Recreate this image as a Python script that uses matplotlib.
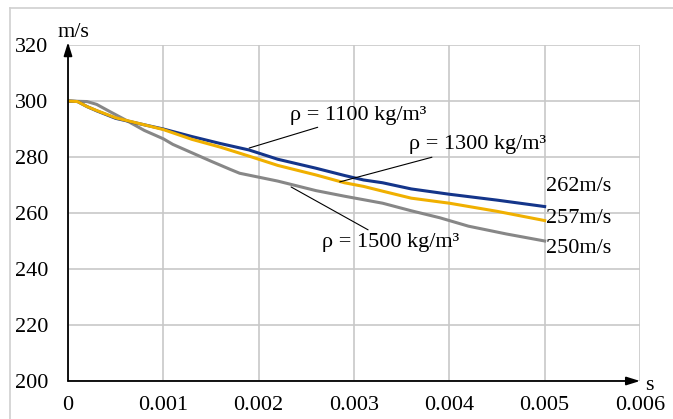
import matplotlib
matplotlib.use("Agg")
import matplotlib.pyplot as plt
from matplotlib.lines import Line2D

plt.rcParams['font.family'] = ['Liberation Serif', 'DejaVu Serif']

# velocity vs time for three densities
t_1100 = [0, 0.0001, 0.0002, 0.0003, 0.0005, 0.0008, 0.001, 0.0013, 0.0016, 0.0019,
          0.0022, 0.0026, 0.0029, 0.0031, 0.0033, 0.0036, 0.004, 0.0045, 0.005]
v_1100 = [300, 299.8, 298, 296.5, 293.8, 291.5, 290.0, 287.3, 284.8, 282.5,
          279.2, 276.0, 273.4, 271.8, 270.8, 268.6, 266.7, 264.6, 262.3]

t_1300 = [0, 0.0001, 0.0002, 0.0003, 0.0005, 0.0008, 0.001, 0.0013, 0.0016, 0.0019,
          0.0022, 0.0026, 0.0029, 0.0031, 0.0033, 0.0036, 0.004, 0.0045, 0.005]
v_1300 = [300, 299.8, 298, 296.6, 294.0, 291.5, 289.8, 286.3, 283.5, 280.3,
          277.0, 273.6, 270.8, 269.5, 267.8, 265.3, 263.5, 260.6, 257.3]

t_1500 = [0, 0.0002, 0.0003, 0.00044, 0.0006, 0.0008, 0.001, 0.0011, 0.0013, 0.0015,
          0.0017, 0.0018, 0.002, 0.0022, 0.0026, 0.0029, 0.0033, 0.0036, 0.0039,
          0.0042, 0.0046, 0.005]
v_1500 = [300, 299.8, 298.8, 296.2, 293.3, 289.5, 286.5, 284.5, 281.5, 278.5,
          275.6, 274.2, 272.8, 271.4, 268.0, 266.0, 263.5, 260.8, 258.3,
          255.3, 252.5, 250.0]

x_ticks = [0, 0.001, 0.002, 0.003, 0.004, 0.005, 0.006]
x_labels = ["0", "0.001", "0.002", "0.003", "0.004", "0.005", "0.006"]
y_ticks = [200, 220, 240, 260, 280, 300, 320]
end_labels = ["262m/s", "257m/s", "250m/s"]

W, H = 673, 419
FS = 16
fig = plt.figure(figsize=(W / 100, H / 100), dpi=100)
ax = fig.add_axes([68 / W, (H - 381) / H, (640 - 68) / W, (381 - 45) / H])

# outer frame (top and left only visible)
fig.add_artist(Line2D([10 / W, 1], [1 - 8 / H, 1 - 8 / H], color="#d0d0d0", lw=1.2))
fig.add_artist(Line2D([10 / W, 10 / W], [0, 1 - 8 / H], color="#d0d0d0", lw=1.2))

ax.set_xlim(0, 0.006)
ax.set_ylim(200, 320)
ax.set_xticks(x_ticks)
ax.set_xticklabels(x_labels)
ax.set_yticks(y_ticks)
ax.tick_params(length=0, labelsize=FS)
ax.tick_params(axis="y", pad=14)
ax.tick_params(axis="x", pad=11)
for s in ax.spines.values():
    s.set_visible(False)
ax.grid(True, color="#c8c8c8", lw=1.2)
ax.set_axisbelow(True)

ax.plot(t_1500, v_1500, color="#878787", lw=2.2)
ax.plot(t_1100, v_1100, color="#14358a", lw=2.2)
ax.plot(t_1300, v_1300, color="#f0b000", lw=2.2)

# axes arrows
arrow = dict(arrowstyle="-|>,head_length=0.8,head_width=0.25", color="black", lw=1.3,
             shrinkA=0, shrinkB=0)
ax.annotate("", xy=(0, 321), xytext=(0, 200), arrowprops=arrow, annotation_clip=False)
ax.annotate("", xy=(0.0060, 200), xytext=(0, 200), arrowprops=arrow, annotation_clip=False)
ax.text(0.00006, 324.5, "m/s", fontsize=FS, ha="center", va="center", clip_on=False)
ax.text(0.0061, 198.5, "s", fontsize=FS, ha="center", va="center", clip_on=False)

# density labels with leaders
lead = dict(arrowstyle="-", color="black", lw=0.8, shrinkA=0, shrinkB=0)
ax.annotate("ρ = 1100 kg/m³", xy=(0.0019, 283.2), xytext=(0.00233, 295.0),
            fontsize=FS, ha="left", va="center", arrowprops=lead)
ax.annotate("ρ = 1300 kg/m³", xy=(0.00285, 271.1), xytext=(0.00358, 284.3),
            fontsize=FS, ha="left", va="center", arrowprops=lead)
ax.annotate("ρ = 1500 kg/m³", xy=(0.00234, 269.3), xytext=(0.00266, 249.6),
            fontsize=FS, ha="left", va="center", arrowprops=lead)

for lab, yv in zip(end_labels, [269.3, 258.2, 247.5]):
    ax.text(0.00501, yv, lab, fontsize=FS, ha="left", va="center")

fig.savefig("out.png", dpi=100)
